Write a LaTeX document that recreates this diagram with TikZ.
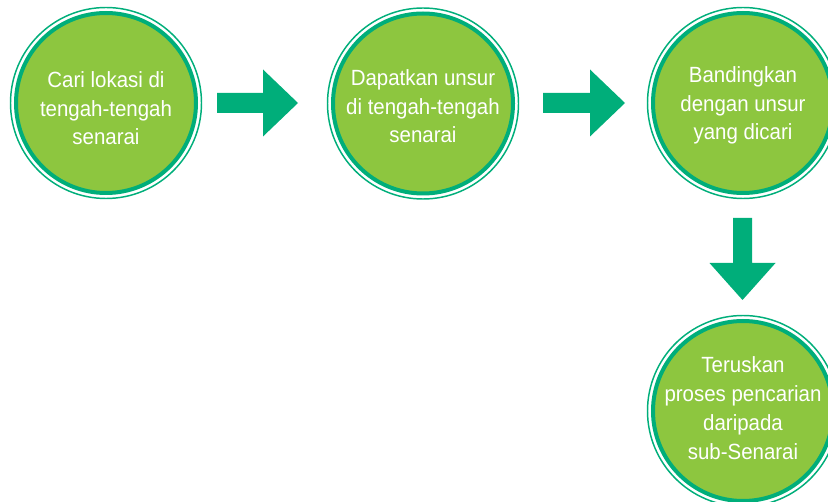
\documentclass[tikz,border=0pt]{standalone}
\usepackage{fontspec}
\setmainfont{Liberation Sans}[FakeStretch=0.93]
\usetikzlibrary{calc}
\definecolor{ringteal}{RGB}{0,174,122}
\definecolor{discgreen}{RGB}{141,198,63}
\tikzset{
  disc/.style={circle, fill=discgreen, draw=ringteal, line width=3pt,
    minimum size=135pt, inner sep=0pt},
  outerring/.style={draw=ringteal, line width=1.1pt},
  disctext/.style={text=white, align=center, anchor=base, inner sep=0pt,
    font=\fontsize{16.5}{21.6}\selectfont},
  blockarrow/.style={fill=ringteal, draw=none}
}
\begin{document}
\begin{tikzpicture}[x=0.75pt, y=-0.75pt]
  \useasboundingbox (0,0) rectangle (828,502);

  % discs with their double teal rim
  \foreach \n/\p in {c1/{(106,103)}, c2/{(423,103.5)}, c3/{(743,103)}, c4/{(743,411)}} {
    \node[disc] (\n) at \p {};
    \draw[outerring] (\n.center) circle (95.5);
  }

  % captions (placed by the baseline of their last line)
  \node[disctext] (t1) at ($(c1.center)+(0,42)$) {Cari lokasi di\\tengah-tengah\\senarai};
  \node[disctext] (t2) at ($(c2.center)+(0,39.5)$) {Dapatkan unsur\\di tengah-tengah\\senarai};
  \node[disctext] (t3) at ($(c3.center)+(0,37)$) {Bandingkan\\dengan unsur\\yang dicari};
  \node[disctext] (t4) at ($(c4.center)+(0,48)$) {Teruskan\\proses pencarian\\daripada\\sub-Senarai};

  % block arrows between the discs
  \coordinate (a1s) at ($(c1.center)+(111,0)$);
  \coordinate (a1e) at ($(c2.center)+(-125,-0.5)$);
  \coordinate (a2s) at ($(c2.center)+(120,-0.5)$);
  \coordinate (a2e) at ($(c3.center)+(-118,0)$);
  \coordinate (a3s) at ($(c3.center)+(-0.5,115)$);
  \coordinate (a3e) at ($(c4.center)+(-0.5,-111)$);

  \foreach \s/\e in {a1s/a1e, a2s/a2e} {
    \fill[blockarrow] ($(\s)+(0,-10)$) -- ($(\e)+(-35,-10)$) -- ($(\e)+(-35,-33.5)$)
      -- (\e) -- ($(\e)+(-35,33.5)$) -- ($(\e)+(-35,10)$) -- ($(\s)+(0,10)$) -- cycle;
  }
  \fill[blockarrow] ($(a3s)+(-9.5,0)$) -- ($(a3e)+(-9.5,-37)$) -- ($(a3e)+(-33,-37)$)
    -- (a3e) -- ($(a3e)+(33,-37)$) -- ($(a3e)+(9.5,-37)$) -- ($(a3s)+(9.5,0)$) -- cycle;
\end{tikzpicture}
\end{document}
